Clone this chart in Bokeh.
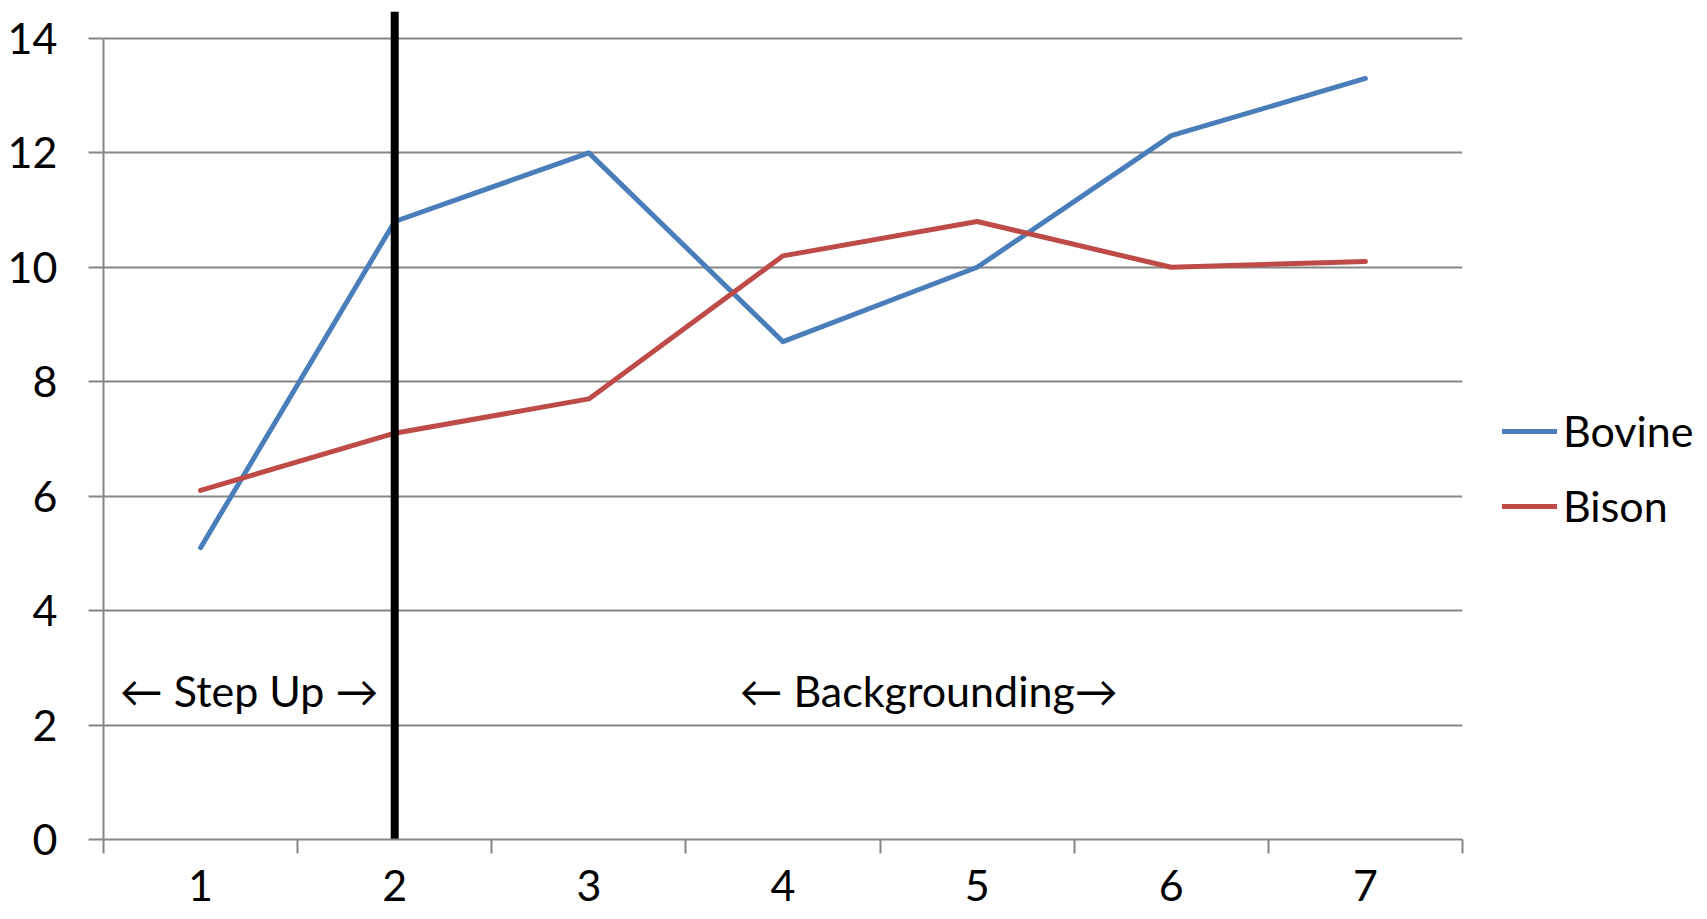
from bokeh.plotting import figure
from bokeh.models import Range1d, FixedTicker, Legend, LegendItem, ColumnDataSource
from bokeh.core.properties import value
from bokeh.embed import file_html
from bokeh.resources import INLINE

# Data
sessions = [1, 2, 3, 4, 5, 6, 7]
bovine = [5.1, 10.8, 12.0, 8.7, 10.0, 12.3, 13.3]
bison = [6.1, 7.1, 7.7, 10.2, 10.8, 10.0, 10.1]
y_ticks = [0, 2, 4, 6, 8, 10, 12, 14]

# Phases and the session where the divider sits
divider_session = 2
phase_labels = ["\u2190 Step Up \u2192", "\u2190 Backgrounding\u2192"]
phase_label_y = 2.6

FONT = "Lato"
FS = "43px"
BLUE = "#4A7EBB"
RED = "#BE4B48"
GRID = "#868686"

x_lo, x_hi = sessions[0] - 0.5, sessions[-1] + 0.5

p = figure(frame_width=1359, frame_height=828, output_backend="svg",
           toolbar_location=None,
           x_range=Range1d(x_lo, x_hi), y_range=Range1d(0, 14.47),
           min_border_left=103, min_border_right=0, min_border_top=11,
           min_border_bottom=80)
p.outline_line_color = None
p.background_fill_color = "white"
p.border_fill_color = "white"

# x axis: labels at session centres, small ticks at the boundaries
p.xaxis.ticker = FixedTicker(ticks=sessions,
                             minor_ticks=[s - 0.5 for s in sessions] + [x_hi])
p.xaxis.major_tick_out = 0
p.xaxis.major_tick_in = 0
p.xaxis.minor_tick_out = 14
p.xaxis.minor_tick_in = 0
p.xaxis.minor_tick_line_color = GRID
p.xaxis.minor_tick_line_width = 2
p.xaxis.axis_line_color = GRID
p.xaxis.axis_line_width = 2
p.xaxis.major_label_standoff = 16

p.yaxis.ticker = FixedTicker(ticks=y_ticks)
p.yaxis.bounds = (0, 14)
p.yaxis.major_tick_out = 15
p.yaxis.major_tick_in = 0
p.yaxis.minor_tick_line_color = None
p.yaxis.major_tick_line_color = GRID
p.yaxis.major_tick_line_width = 2
p.yaxis.axis_line_color = GRID
p.yaxis.axis_line_width = 2
p.yaxis.major_label_standoff = 31

for ax in (p.xaxis, p.yaxis):
    ax.major_label_text_font = FONT
    ax.major_label_text_font_size = FS
    ax.major_label_text_color = "black"

p.xgrid.grid_line_color = None
p.ygrid.ticker = FixedTicker(ticks=y_ticks)
p.ygrid.grid_line_color = GRID
p.ygrid.grid_line_width = 2

src = ColumnDataSource(dict(x=sessions, bovine=bovine, bison=bison))
r_bov = p.line("x", "bovine", source=src, line_color=BLUE, line_width=5,
               line_cap="round", line_join="round")
r_bis = p.line("x", "bison", source=src, line_color=RED, line_width=5,
               line_cap="round", line_join="round")

# phase divider
p.segment(x0=[divider_session], y0=[p.y_range.start], x1=[divider_session],
          y1=[p.y_range.end], line_color="black", line_width=8)

# phase labels, centred on each phase's span
spans = [(x_lo, divider_session), (divider_session, x_hi)]
p.text(x=[(a + b) / 2 for a, b in spans], y=[phase_label_y] * len(spans),
       text=phase_labels, text_font=value(FONT), text_font_size=FS,
       text_align="center", text_baseline="middle", text_color="black")

legend = Legend(items=[LegendItem(label="Bovine", renderers=[r_bov]),
                       LegendItem(label="Bison", renderers=[r_bis])],
                location=(40, 308), orientation="vertical",
                glyph_width=55, glyph_height=40, label_height=40,
                label_standoff=6, spacing=24, padding=0, margin=0,
                border_line_color=None, background_fill_alpha=0,
                label_text_font=FONT, label_text_font_size=FS,
                label_text_color="black")
p.add_layout(legend, "right")

open("out.html", "w").write(file_html(p, INLINE))
